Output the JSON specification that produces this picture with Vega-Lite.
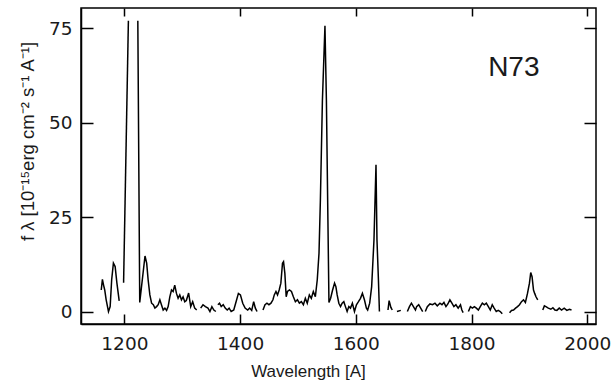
{
  "$schema": "https://vega.github.io/schema/vega-lite/v6.json",
  "width": 515,
  "height": 316,
  "autosize": {"type": "none"},
  "padding": {"left": 81, "top": 8, "right": 17, "bottom": 59},
  "background": "white",
  "config": {
    "view": {"stroke": "black", "strokeWidth": 1.5},
    "axis": {
      "domainColor": "black", "domainWidth": 1.5,
      "tickColor": "black", "tickWidth": 1.5,
      "grid": false,
      "labelFont": "DejaVu Sans", "labelFontSize": 18.5, "labelColor": "#1a1a1a",
      "titleFont": "Liberation Sans", "titleFontWeight": "normal", "titleColor": "#1a1a1a"
    }
  },
  "datasets": {
    "spec": [
      {"seg": 1, "wl": 1160, "flux": 5.8}, {"seg": 1, "wl": 1162, "flux": 8.6}, {"seg": 1, "wl": 1164, "flux": 7.1}, {"seg": 1, "wl": 1166, "flux": 5.8}, {"seg": 1, "wl": 1168.5, "flux": 3.2}, {"seg": 1, "wl": 1172.5, "flux": 0.1}, {"seg": 1, "wl": 1175.4, "flux": 1.4}, {"seg": 1, "wl": 1178, "flux": 8.5}, {"seg": 1, "wl": 1181, "flux": 12.9}, {"seg": 1, "wl": 1184, "flux": 12}, {"seg": 1, "wl": 1187, "flux": 7.7}, {"seg": 1, "wl": 1191, "flux": 2.9},
      {"seg": 2, "wl": 1198.6, "flux": 7.7}, {"seg": 2, "wl": 1206.9, "flux": 77},
      {"seg": 3, "wl": 1223.2, "flux": 77}, {"seg": 3, "wl": 1226.5, "flux": 2.5}, {"seg": 3, "wl": 1235.6, "flux": 14.8}, {"seg": 3, "wl": 1238.5, "flux": 12.9}, {"seg": 3, "wl": 1241, "flux": 8.5}, {"seg": 3, "wl": 1244, "flux": 4.5}, {"seg": 3, "wl": 1247, "flux": 2.3}, {"seg": 3, "wl": 1250, "flux": 1.9}, {"seg": 3, "wl": 1252.7, "flux": 1.0}, {"seg": 3, "wl": 1255.6, "flux": 1.4}, {"seg": 3, "wl": 1258.4, "flux": 1.9}, {"seg": 3, "wl": 1261.3, "flux": 3.2}, {"seg": 3, "wl": 1264, "flux": 1.9}, {"seg": 3, "wl": 1267, "flux": 0.5}, {"seg": 3, "wl": 1270, "flux": 1.0}, {"seg": 3, "wl": 1272.9, "flux": 0.4}, {"seg": 3, "wl": 1275.6, "flux": 1.4}, {"seg": 3, "wl": 1278.5, "flux": 4.0}, {"seg": 3, "wl": 1281.4, "flux": 5.8}, {"seg": 3, "wl": 1284.2, "flux": 5.4}, {"seg": 3, "wl": 1287, "flux": 7.1}, {"seg": 3, "wl": 1290, "flux": 4.9}, {"seg": 3, "wl": 1292.8, "flux": 3.6}, {"seg": 3, "wl": 1295.7, "flux": 4.5}, {"seg": 3, "wl": 1298.6, "flux": 3.2}, {"seg": 3, "wl": 1301.4, "flux": 4.0}, {"seg": 3, "wl": 1304.3, "flux": 2.7}, {"seg": 3, "wl": 1307, "flux": 3.0}, {"seg": 3, "wl": 1311, "flux": 5.0}, {"seg": 3, "wl": 1314.6, "flux": 1.4}, {"seg": 3, "wl": 1318, "flux": 2.7}, {"seg": 3, "wl": 1321.5, "flux": 1.0}, {"seg": 3, "wl": 1325, "flux": 0.5},
      {"seg": 4, "wl": 1331.8, "flux": 1.0}, {"seg": 4, "wl": 1335.8, "flux": 1.9}, {"seg": 4, "wl": 1340, "flux": 1.4}, {"seg": 4, "wl": 1344.4, "flux": 1.0}, {"seg": 4, "wl": 1347.8, "flux": 0.1}, {"seg": 4, "wl": 1351.2, "flux": 1.4}, {"seg": 4, "wl": 1354.6, "flux": 0.5}, {"seg": 4, "wl": 1358, "flux": 0.1},
      {"seg": 5, "wl": 1361.5, "flux": 1.9}, {"seg": 5, "wl": 1364.4, "flux": 2.3}, {"seg": 5, "wl": 1367.3, "flux": 1.4}, {"seg": 5, "wl": 1370.8, "flux": 1.9}, {"seg": 5, "wl": 1374.2, "flux": 1.0}, {"seg": 5, "wl": 1377.7, "flux": 0.5}, {"seg": 5, "wl": 1381, "flux": 1.0}, {"seg": 5, "wl": 1384.5, "flux": 0.1}, {"seg": 5, "wl": 1389, "flux": 0.5}, {"seg": 5, "wl": 1393, "flux": 2.7}, {"seg": 5, "wl": 1397, "flux": 4.9}, {"seg": 5, "wl": 1400.5, "flux": 4.5}, {"seg": 5, "wl": 1404.5, "flux": 2.3}, {"seg": 5, "wl": 1408.6, "flux": 1.0}, {"seg": 5, "wl": 1413, "flux": 0.5}, {"seg": 5, "wl": 1416.5, "flux": 1.0}, {"seg": 5, "wl": 1420, "flux": 0.4}, {"seg": 5, "wl": 1423.4, "flux": 2.7}, {"seg": 5, "wl": 1426.3, "flux": 1.0}, {"seg": 5, "wl": 1429.2, "flux": 0.1},
      {"seg": 6, "wl": 1439.5, "flux": 0.5}, {"seg": 6, "wl": 1443, "flux": 1.9}, {"seg": 6, "wl": 1446.4, "flux": 2.3}, {"seg": 6, "wl": 1449.8, "flux": 1.9}, {"seg": 6, "wl": 1453.3, "flux": 2.3}, {"seg": 6, "wl": 1456.7, "flux": 3.2}, {"seg": 6, "wl": 1459, "flux": 4.5}, {"seg": 6, "wl": 1461.9, "flux": 5.4}, {"seg": 6, "wl": 1464.6, "flux": 4.5}, {"seg": 6, "wl": 1467.5, "flux": 5.8}, {"seg": 6, "wl": 1470.4, "flux": 7.6}, {"seg": 6, "wl": 1473.2, "flux": 12.9}, {"seg": 6, "wl": 1475, "flux": 13.3}, {"seg": 6, "wl": 1477.3, "flux": 10.2}, {"seg": 6, "wl": 1479.6, "flux": 4.0}, {"seg": 6, "wl": 1481.8, "flux": 5.4}, {"seg": 6, "wl": 1485.2, "flux": 5.8}, {"seg": 6, "wl": 1488.7, "flux": 5.4}, {"seg": 6, "wl": 1492, "flux": 4.0}, {"seg": 6, "wl": 1495.5, "flux": 2.7}, {"seg": 6, "wl": 1499, "flux": 3.2}, {"seg": 6, "wl": 1502.4, "flux": 2.3}, {"seg": 6, "wl": 1505.8, "flux": 2.7}, {"seg": 6, "wl": 1509.3, "flux": 1.9}, {"seg": 6, "wl": 1512.7, "flux": 3.6}, {"seg": 6, "wl": 1516, "flux": 2.3}, {"seg": 6, "wl": 1519.6, "flux": 4.5}, {"seg": 6, "wl": 1523, "flux": 3.6}, {"seg": 6, "wl": 1526.5, "flux": 5.4}, {"seg": 6, "wl": 1530, "flux": 4.0}, {"seg": 6, "wl": 1533.3, "flux": 8.5}, {"seg": 6, "wl": 1536.3, "flux": 15.5}, {"seg": 6, "wl": 1538.7, "flux": 29.6}, {"seg": 6, "wl": 1542.2, "flux": 56}, {"seg": 6, "wl": 1546.6, "flux": 75.7}, {"seg": 6, "wl": 1549.1, "flux": 56}, {"seg": 6, "wl": 1551.7, "flux": 24.3}, {"seg": 6, "wl": 1553.5, "flux": 2.5}, {"seg": 6, "wl": 1556.4, "flux": 3.6}, {"seg": 6, "wl": 1559.8, "flux": 5.8}, {"seg": 6, "wl": 1563.2, "flux": 7.6}, {"seg": 6, "wl": 1565.5, "flux": 6.7}, {"seg": 6, "wl": 1567.7, "flux": 4.5}, {"seg": 6, "wl": 1570.6, "flux": 2.3}, {"seg": 6, "wl": 1573.5, "flux": 1.4}, {"seg": 6, "wl": 1576.3, "flux": 2.3}, {"seg": 6, "wl": 1579.2, "flux": 2.7}, {"seg": 6, "wl": 1582, "flux": 1.4}, {"seg": 6, "wl": 1584.9, "flux": 0.1}, {"seg": 6, "wl": 1587.8, "flux": 1.4}, {"seg": 6, "wl": 1590.7, "flux": 1.0}, {"seg": 6, "wl": 1594, "flux": 2.3}, {"seg": 6, "wl": 1597.6, "flux": 0.1}, {"seg": 6, "wl": 1601, "flux": 1.9}, {"seg": 6, "wl": 1604.5, "flux": 2.7}, {"seg": 6, "wl": 1608, "flux": 3.6}, {"seg": 6, "wl": 1611.3, "flux": 4.9}, {"seg": 6, "wl": 1614.8, "flux": 3.2}, {"seg": 6, "wl": 1618.2, "flux": 1.0}, {"seg": 6, "wl": 1620.4, "flux": 0.5}, {"seg": 6, "wl": 1623.9, "flux": 2.3}, {"seg": 6, "wl": 1627.3, "flux": 6.7}, {"seg": 6, "wl": 1629.6, "flux": 13.8}, {"seg": 6, "wl": 1631.3, "flux": 19}, {"seg": 6, "wl": 1634.8, "flux": 38.9}, {"seg": 6, "wl": 1636.5, "flux": 19}, {"seg": 6, "wl": 1639, "flux": 8.5}, {"seg": 6, "wl": 1640.7, "flux": 0.1},
      {"seg": 7, "wl": 1655.5, "flux": 0.5}, {"seg": 7, "wl": 1657.5, "flux": 3.0}, {"seg": 7, "wl": 1660.5, "flux": 1.2}, {"seg": 7, "wl": 1662.9, "flux": 0.5},
      {"seg": 8, "wl": 1671, "flux": 0.1}, {"seg": 8, "wl": 1677.7, "flux": 0.4},
      {"seg": 9, "wl": 1689, "flux": 0.1}, {"seg": 9, "wl": 1692.6, "flux": 1.4}, {"seg": 9, "wl": 1696, "flux": 2.3}, {"seg": 9, "wl": 1699.5, "flux": 1.4}, {"seg": 9, "wl": 1703, "flux": 0.5}, {"seg": 9, "wl": 1705, "flux": 1.4}, {"seg": 9, "wl": 1708.6, "flux": 1.9}, {"seg": 9, "wl": 1712, "flux": 1.0}, {"seg": 9, "wl": 1715.5, "flux": 0.1},
      {"seg": 10, "wl": 1720, "flux": 0.1}, {"seg": 10, "wl": 1723.5, "flux": 1.4}, {"seg": 10, "wl": 1728, "flux": 2.1}, {"seg": 10, "wl": 1732.6, "flux": 1.9}, {"seg": 10, "wl": 1736.7, "flux": 2.3}, {"seg": 10, "wl": 1740.7, "flux": 1.6}, {"seg": 10, "wl": 1745.3, "flux": 2.3}, {"seg": 10, "wl": 1748.8, "flux": 1.9}, {"seg": 10, "wl": 1752.2, "flux": 2.5}, {"seg": 10, "wl": 1755.7, "flux": 1.4}, {"seg": 10, "wl": 1759, "flux": 2.1}, {"seg": 10, "wl": 1762.5, "flux": 3.2}, {"seg": 10, "wl": 1766, "flux": 2.3}, {"seg": 10, "wl": 1769.4, "flux": 1.4}, {"seg": 10, "wl": 1772.9, "flux": 1.9}, {"seg": 10, "wl": 1776.8, "flux": 1.0}, {"seg": 10, "wl": 1780.8, "flux": 1.9}, {"seg": 10, "wl": 1783.2, "flux": 0.5}, {"seg": 10, "wl": 1785.4, "flux": -0.2},
      {"seg": 11, "wl": 1794.5, "flux": 0.1}, {"seg": 11, "wl": 1798, "flux": 1.4}, {"seg": 11, "wl": 1801.4, "flux": 1.0}, {"seg": 11, "wl": 1804.8, "flux": 1.4}, {"seg": 11, "wl": 1808.2, "flux": 1.0}, {"seg": 11, "wl": 1811.7, "flux": 0.5}, {"seg": 11, "wl": 1815, "flux": 1.4}, {"seg": 11, "wl": 1818.6, "flux": 2.3}, {"seg": 11, "wl": 1822, "flux": 1.9}, {"seg": 11, "wl": 1825.4, "flux": 2.3}, {"seg": 11, "wl": 1829, "flux": 1.4}, {"seg": 11, "wl": 1832.3, "flux": 0.5}, {"seg": 11, "wl": 1835.7, "flux": 1.9}, {"seg": 11, "wl": 1839, "flux": 1.0}, {"seg": 11, "wl": 1842.6, "flux": 0.1}, {"seg": 11, "wl": 1846, "flux": 0.4}, {"seg": 11, "wl": 1849.5, "flux": 0.1}, {"seg": 11, "wl": 1853, "flux": -0.5},
      {"seg": 12, "wl": 1865.6, "flux": -0.2}, {"seg": 12, "wl": 1869, "flux": 0.4}, {"seg": 12, "wl": 1872.5, "flux": 0.5}, {"seg": 12, "wl": 1876, "flux": 1.0}, {"seg": 12, "wl": 1879.4, "flux": 1.4}, {"seg": 12, "wl": 1882.8, "flux": 1.9}, {"seg": 12, "wl": 1886.3, "flux": 2.7}, {"seg": 12, "wl": 1889.7, "flux": 3.2}, {"seg": 12, "wl": 1893, "flux": 2.5}, {"seg": 12, "wl": 1896.6, "flux": 4.9}, {"seg": 12, "wl": 1900, "flux": 7.6}, {"seg": 12, "wl": 1902.2, "flux": 10.4}, {"seg": 12, "wl": 1904.5, "flux": 9.3}, {"seg": 12, "wl": 1907, "flux": 5.8}, {"seg": 12, "wl": 1909, "flux": 4.9}, {"seg": 12, "wl": 1911.3, "flux": 4.0}, {"seg": 12, "wl": 1914.3, "flux": 3.2},
      {"seg": 13, "wl": 1923, "flux": 0.5}, {"seg": 13, "wl": 1925.8, "flux": 1.6}, {"seg": 13, "wl": 1928.5, "flux": 1.4}, {"seg": 13, "wl": 1932.6, "flux": 1.0}, {"seg": 13, "wl": 1937, "flux": 0.7}, {"seg": 13, "wl": 1940.5, "flux": 1.1}, {"seg": 13, "wl": 1944, "flux": 0.5}, {"seg": 13, "wl": 1947.4, "flux": 0.4}, {"seg": 13, "wl": 1951.5, "flux": 1.0}, {"seg": 13, "wl": 1955.5, "flux": 0.5}, {"seg": 13, "wl": 1960, "flux": 1.0}, {"seg": 13, "wl": 1964.6, "flux": 0.4}, {"seg": 13, "wl": 1969, "flux": 0.7}, {"seg": 13, "wl": 1972.7, "flux": 0.5}
    ],
    "label": [{"text": "N73", "wl": 1873, "flux": 64.5}]
  },
  "resolve": {"axis": {"x": "independent", "y": "independent"}},
  "layer": [
    {
      "data": {"name": "spec"},
      "mark": {"type": "line", "color": "black", "strokeWidth": 1.5, "clip": true},
      "encoding": {
        "x": {
          "field": "wl", "type": "quantitative",
          "scale": {"domain": [1125, 2015], "nice": false, "zero": false},
          "axis": {
            "orient": "bottom", "values": [1200, 1400, 1600, 1800, 2000], "format": "d",
            "tickSize": -10, "labelPadding": 20, "labelFlush": false,
            "title": "Wavelength [A]", "titleFontSize": 17,
            "titleX": 227, "titleY": 47, "titleBaseline": "middle", "titleAlign": "center"
          }
        },
        "y": {
          "field": "flux", "type": "quantitative",
          "scale": {"domain": [-3.2, 80.4], "nice": false, "zero": false},
          "axis": {
            "orient": "left", "values": [0, 25, 50, 75], "format": "d",
            "tickSize": -12, "labelPadding": 21, "labelFlush": false,
            "title": "f λ [10⁻¹⁵erg cm⁻² s⁻¹ A⁻¹]", "titleFontSize": 18.5,
            "titleAngle": -90, "titleX": -54, "titleY": 133,
            "titleBaseline": "middle", "titleAlign": "center"
          }
        },
        "detail": {"field": "seg", "type": "nominal"}
      }
    },
    {
      "data": {"name": "label"},
      "mark": {"type": "text", "font": "Liberation Sans", "fontSize": 28, "color": "#1a1a1a", "align": "center", "baseline": "middle"},
      "encoding": {
        "x": {
          "field": "wl", "type": "quantitative",
          "scale": {"domain": [1125, 2015], "nice": false, "zero": false},
          "axis": {"orient": "top", "values": [1200, 1400, 1600, 1800, 2000], "tickSize": -8, "labels": false, "domain": false, "title": null}
        },
        "y": {
          "field": "flux", "type": "quantitative",
          "scale": {"domain": [-3.2, 80.4], "nice": false, "zero": false},
          "axis": {"orient": "right", "values": [0, 25, 50, 75], "tickSize": -12, "labels": false, "domain": false, "title": null}
        },
        "text": {"field": "text"}
      }
    }
  ]
}
